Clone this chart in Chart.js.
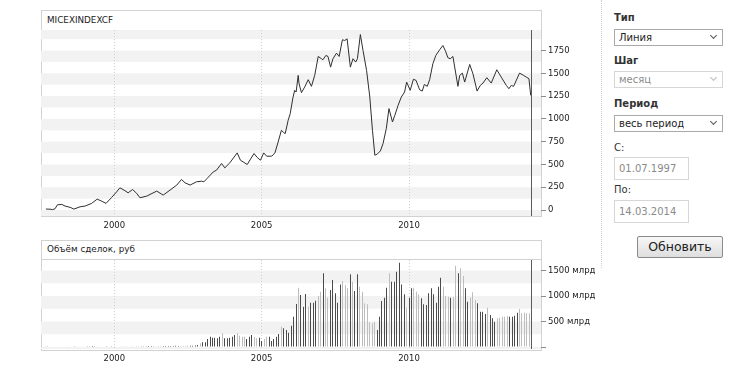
<!DOCTYPE html>
<html><head><meta charset="utf-8">
<script src="https://cdn.jsdelivr.net/npm/chart.js@4"></script>
<style>
body{margin:0;background:#fff;font-family:"DejaVu Sans",sans-serif;width:736px;height:369px;overflow:hidden;position:relative}
.abs{position:absolute}
.box{position:absolute;border:1px solid #d2d2d2;box-sizing:border-box}
.hline{position:absolute;height:0;border-top:1px solid #d2d2d2}
.ttl{position:absolute;font-size:8.8px;color:#222;white-space:nowrap}
.lbl{position:absolute;font-size:10px;font-weight:bold;color:#333;left:614px}
.sel{position:absolute;left:614px;width:109px;height:17px;border:1px solid #a9a9a9;box-sizing:border-box;font-size:10px;color:#222;padding-left:4px;line-height:15px;background:#fff}
.sel.dis{border-color:#d6d6d6;color:#8c8c8c}
.chev{position:absolute;right:6px;top:3px;width:4px;height:4px;border-right:1.5px solid #555;border-bottom:1.5px solid #555;transform:rotate(45deg)}
.dis .chev{border-color:#bbb}
.inp{position:absolute;left:614px;width:75px;height:23px;border:1px solid #d6d6d6;box-sizing:border-box;font-size:10px;color:#8a8a8a;padding-left:4px;line-height:21px}
.txt{position:absolute;left:614px;font-size:10px;color:#333}
.btn{position:absolute;left:637px;top:236px;width:86px;height:22px;border:1px solid #8a8a8a;box-sizing:border-box;border-radius:2px;background:linear-gradient(#f7f7f7,#dedede);font-size:12.5px;color:#222;text-align:center;line-height:20px}
canvas{position:absolute}
</style>
</head><body>
<div class="box" style="left:41px;top:10px;width:501px;height:207px"></div>
<div class="hline" style="left:41px;top:30px;width:501px"></div>
<div class="ttl" style="left:47px;top:15px">MICEXINDEXCF</div>
<div class="box" style="left:41px;top:240px;width:501px;height:111px"></div>
<div class="hline" style="left:41px;top:259px;width:501px"></div>
<div class="ttl" style="left:47px;top:244px">Объём сделок, руб</div>
<canvas id="c1" width="545" height="203" style="left:41px;top:30px"></canvas>
<canvas id="c2" width="560" height="106" style="left:41px;top:260px"></canvas>

<div class="abs" style="left:601px;top:0;height:268px;border-left:1px dotted #cfcfcf"></div>
<div class="lbl" style="top:12px">Тип</div>
<div class="sel" style="top:29px">Линия<span class="chev"></span></div>
<div class="lbl" style="top:55px">Шаг</div>
<div class="sel dis" style="top:71px">месяц<span class="chev"></span></div>
<div class="lbl" style="top:98px">Период</div>
<div class="sel" style="top:115px">весь период<span class="chev"></span></div>
<div class="txt" style="top:142px">С:</div>
<div class="inp" style="top:157px">01.07.1997</div>
<div class="txt" style="top:184px">По:</div>
<div class="inp" style="top:200px">14.03.2014</div>
<div class="btn">Обновить</div>

<script>
// ---- data ----
const priceYears = [1997.68,1997.75,1997.82,1997.91,1997.99,
1998.07,1998.22,1998.33,1998.50,1998.63,1998.84,
1999.01,1999.23,1999.42,1999.57,1999.72,1999.91,
2000.08,2000.19,2000.33,2000.47,2000.62,2000.76,2000.87,
2001.10,2001.44,2001.66,2001.89,
2002.12,2002.28,2002.40,2002.57,2002.79,2002.96,
2003.04,2003.15,2003.36,2003.47,2003.64,2003.75,2003.92,
2004.17,2004.28,2004.51,2004.74,2004.85,2004.96,
2005.07,2005.17,2005.34,2005.45,2005.56,2005.67,2005.75,2005.80,2005.90,2005.97,
2006.06,2006.12,2006.17,2006.24,2006.27,2006.35,2006.46,2006.58,2006.69,2006.80,2006.92,
2007.03,2007.08,2007.18,2007.25,2007.34,2007.42,2007.54,2007.63,2007.74,2007.82,2007.90,
2008.01,2008.10,2008.19,2008.25,2008.35,2008.44,2008.56,2008.67,2008.76,2008.84,2008.92,
2009.03,2009.12,2009.23,2009.32,2009.44,2009.52,2009.63,2009.74,2009.85,2009.92,
2010.04,2010.15,2010.24,2010.36,2010.45,2010.52,2010.62,2010.70,2010.81,2010.91,
2011.04,2011.15,2011.24,2011.32,2011.40,2011.49,2011.66,2011.72,2011.81,2011.89,
2012.06,2012.17,2012.31,2012.42,2012.51,2012.64,2012.79,2012.98,
2013.13,2013.30,2013.39,2013.47,2013.55,2013.75,2013.89,2013.98,
2014.07,2014.13];
const priceValues = [12,10,10,5,15,
58,62,44,30,11,36,
44,73,120,98,73,139,
200,244,219,189,226,183,135,
153,208,164,219,
274,336,299,274,310,317,
310,347,419,438,511,463,518,
627,547,500,620,577,547,
627,591,591,627,747,875,850,839,985,1058,
1230,1313,1295,1477,1386,1288,1349,1430,1357,1477,1685,
1660,1649,1696,1685,1568,1660,1721,1685,1868,1860,1878,
1568,1660,1623,1660,1925,1750,1532,1240,875,602,613,
649,730,894,1113,966,1040,1149,1240,1295,1404,
1313,1435,1422,1320,1305,1378,1357,1430,1605,1696,
1758,1805,1743,1671,1660,1685,1357,1477,1502,1404,
1597,1495,1305,1368,1393,1452,1393,1539,
1458,1368,1331,1368,1357,1502,1477,1458,
1441,1258];
// monthly trading volume, bn RUB, from Sep 1997 to Feb 2014
const volumeStartYear = 1997, volumeStartMonth = 9;
const volumeValues = [14,18,12,9,8,10,12,9,8,7,9,11,14,12,10,9,11,13,16,18,15,13,12,10,11,13,12,14,11,10,
12,13,15,14,12,13,16,18,17,15,14,16,18,20,17,16,19,21,18,20,22,19,21,24,22,20,23,25,28,26,24,30,
40,72,92,92,157,202,183,183,170,202,268,170,170,183,202,235,268,222,202,202,157,202,235,190,170,183,118,157,202,202,118,157,202,255,398,
366,333,280,418,594,843,1162,1019,790,1039,790,868,868,907,1000,1084,1444,1150,966,1117,1313,1052,868,1228,1293,1215,1150,1425,1280,1097,
1425,1182,1084,856,837,484,464,496,333,594,901,966,1162,1444,1280,1280,1476,1652,1228,1033,770,966,1150,1162,1084,1033,954,837,823,1052,
1150,1033,868,1182,1358,1182,1000,986,966,974,1594,1444,1542,1392,1150,888,966,1072,921,856,692,692,647,770,627,562,496,562,575,594,
594,608,594,594,614,673,745,660,673,660,660];
const yearTicks = [2000, 2005, 2010];
const priceTicks = [0, 250, 500, 750, 1000, 1250, 1500, 1750];
const volumeTicks = [0, 500, 1000, 1500];

// ---- helpers ----
const FONT = {family: '"DejaVu Sans", sans-serif', size: 8.5};
const X_MIN = 1997.513, X_MAX = 2014.479;
const lastYear = priceYears[priceYears.length - 1];

function priceAt(t) {
  if (t <= priceYears[0]) return priceValues[0];
  for (let i = 1; i < priceYears.length; i++) {
    if (t <= priceYears[i]) {
      const f = (t - priceYears[i-1]) / (priceYears[i] - priceYears[i-1]);
      return priceValues[i-1] + f * (priceValues[i] - priceValues[i-1]);
    }
  }
  return priceValues[priceValues.length - 1];
}

const stripes = {
  id: 'stripes',
  beforeDraw(chart, args, o) {
    const {ctx, chartArea: a} = chart, y = chart.scales.y;
    ctx.save();
    ctx.beginPath(); ctx.rect(a.left, a.top, a.right - a.left, a.bottom - a.top); ctx.clip();
    ctx.fillStyle = o.color;
    for (let v = o.from; v <= y.max + o.step; v += o.step) {
      const p1 = y.getPixelForValue(v), p2 = y.getPixelForValue(v - o.step / 2);
      ctx.fillRect(a.left, p1, a.right - a.left, p2 - p1);
    }
    ctx.restore();
  }
};
const endMarker = {
  id: 'endMarker',
  afterDatasetsDraw(chart) {
    const {ctx, chartArea: a} = chart;
    const x = Math.round(chart.scales.x.getPixelForValue(lastYear)) + 0.5;
    ctx.save();
    ctx.strokeStyle = '#5a5a5a'; ctx.lineWidth = 1;
    ctx.beginPath(); ctx.moveTo(x, a.top); ctx.lineTo(x, a.bottom); ctx.stroke();
    ctx.restore();
  }
};
// snap 1px bars to whole pixels so they stay crisp
const snapBars = {
  id: 'snapBars',
  beforeDatasetsDraw(chart) {
    chart.getDatasetMeta(0).data.forEach(b => { b.x = Math.floor(b.x) + 0.5; });
  }
};

function xScale() {
  return {
    type: 'linear', min: X_MIN, max: X_MAX, offset: false,
    afterBuildTicks: s => { s.ticks = yearTicks.map(v => ({value: v})); },
    afterFit: s => { s.height = 17; s.paddingLeft = 0; s.paddingRight = 0; },
    ticks: {font: FONT, color: '#222', padding: 5, maxRotation: 0, callback: v => String(v)},
    grid: {color: '#cfcfcf', lineWidth: 1, drawTicks: false, offset: false},
    border: {display: false, dash: [1, 2]}
  };
}
function yScale(min, max, ticks, width, fmt) {
  return {
    position: 'right', min: min, max: max,
    afterBuildTicks: s => { s.ticks = ticks.map(v => ({value: v})); },
    afterFit: s => { s.width = width; s.paddingTop = 0; s.paddingBottom = 0; },
    ticks: {font: FONT, color: '#222', padding: 2, callback: fmt},
    grid: {drawOnChartArea: false, drawTicks: true, tickLength: 5, color: '#8c8c8c'},
    border: {display: false}
  };
}

Chart.defaults.animation = false;

new Chart(document.getElementById('c1'), {
  type: 'line',
  data: {datasets: [{
    data: priceYears.map((t, i) => ({x: t, y: priceValues[i]})),
    borderColor: '#2f2f2f', borderWidth: 1, pointRadius: 0, tension: 0, fill: false
  }]},
  options: {
    responsive: false, devicePixelRatio: 1,
    layout: {padding: 0},
    plugins: {legend: {display: false}, tooltip: {enabled: false},
      stripes: {color: '#f2f2f2', step: 250, from: 0}},
    scales: {
      x: xScale(),
      y: yScale(-65, 1975, priceTicks, 45, v => String(v))
    }
  },
  plugins: [stripes, endMarker]
});

const volStart = volumeStartYear + (volumeStartMonth - 1) / 12;
const volData = volumeValues.map((v, i) => ({x: volStart + i / 12, y: v}));
const volColors = volData.map(d => priceAt(d.x + 1 / 12) >= priceAt(d.x) ? '#4b4b4b' : '#bdbdbd');

new Chart(document.getElementById('c2'), {
  type: 'bar',
  data: {datasets: [{
    data: volData, backgroundColor: volColors, barThickness: 1, borderWidth: 0, inflateAmount: 0
  }]},
  options: {
    responsive: false, devicePixelRatio: 1,
    layout: {padding: 0},
    plugins: {legend: {display: false}, tooltip: {enabled: false},
      stripes: {color: '#f2f2f2', step: 500, from: 0}},
    scales: {
      x: xScale(),
      y: yScale(-39, 1706, volumeTicks, 60, v => v === 0 ? '' : v + ' млрд')
    }
  },
  plugins: [stripes, snapBars, endMarker]
});
</script>
</body></html>
